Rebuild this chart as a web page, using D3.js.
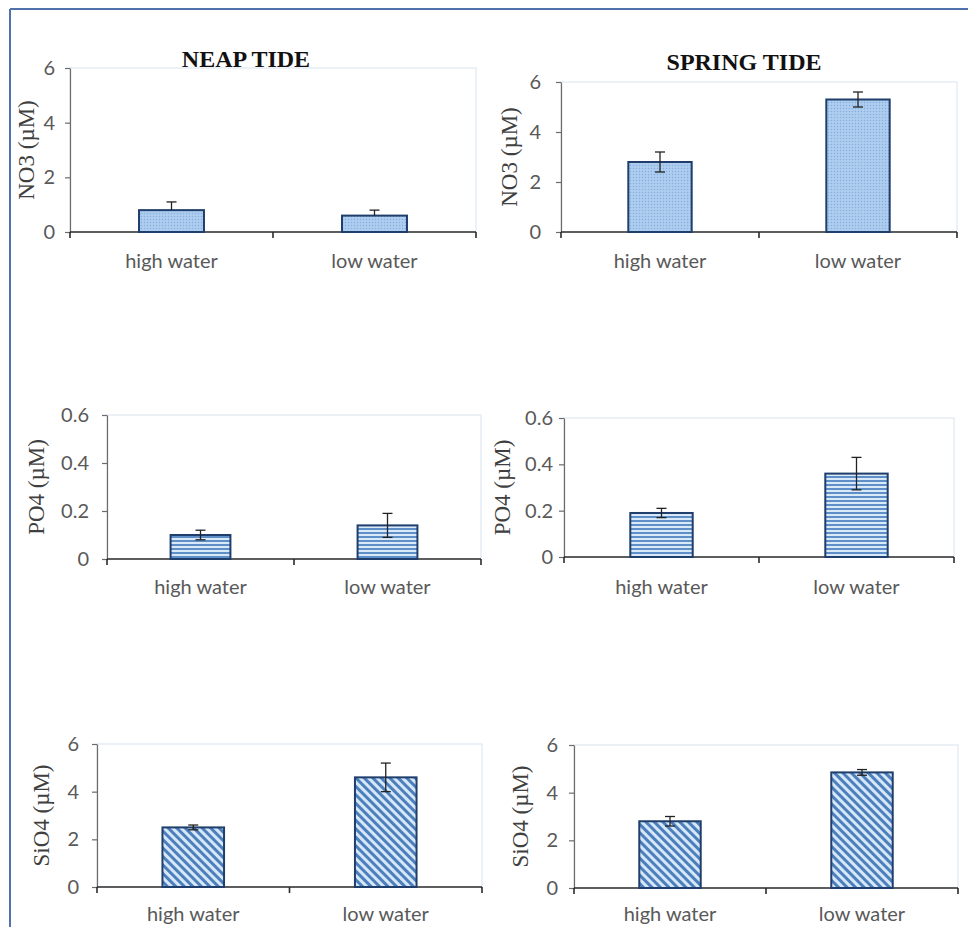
<!DOCTYPE html>
<html>
<head>
  <meta charset="UTF-8">
  <title>Nutrients - neap and spring tide</title>
  <script src="https://d3js.org/d3.v7.min.js"></script>
  <style>
    body { margin: 0; background: #fff; }
    svg text { fill: #595959; }
    .cat-label { font-family: Lato, "Open Sans", sans-serif; font-size: 20px; }
    .y-title { font-family: "Liberation Serif", "Times New Roman", serif; font-size: 23px; fill: #404040; }
    .panel-title { font-family: "Liberation Serif", "Times New Roman", serif; font-size: 24px; font-weight: bold; fill: #111; }
  </style>
</head>
<body>

<div class="chart"></div>

<script>
  var categories = ['high water', 'low water'];

  // NO3 (µM)
  var neapNO3 = [0.8, 0.6];
  var neapNO3Err = [0.3, 0.2];
  var springNO3 = [2.8, 5.3];
  var springNO3Err = [0.4, 0.3];

  // PO4 (µM)
  var neapPO4 = [0.10, 0.14];
  var neapPO4Err = [0.02, 0.05];
  var springPO4 = [0.19, 0.36];
  var springPO4Err = [0.02, 0.07];

  // SiO4 (µM)
  var neapSiO4 = [2.5, 4.6];
  var neapSiO4Err = [0.1, 0.6];
  var springSiO4 = [2.8, 4.85];
  var springSiO4Err = [0.2, 0.12];

  var ticksNO3 = [0, 2, 4, 6];
  var ticksPO4 = [0, 0.2, 0.4, 0.6];
  var ticksSiO4 = [0, 2, 4, 6];

  var width = 968, height = 927;

  var svg = d3.select('.chart')
    .append('svg')
      .attr('width', width)
      .attr('height', height);

  // fill patterns
  var defs = svg.append('defs');

  var dots = defs.append('pattern')
      .attr('id', 'pat-dots')
      .attr('patternUnits', 'userSpaceOnUse')
      .attr('width', 3).attr('height', 3);
  dots.append('rect').attr('width', 3).attr('height', 3).attr('fill', '#a8c9ee');
  dots.append('rect').attr('width', 1).attr('height', 1).attr('fill', '#86aedd');
  dots.append('rect').attr('x', 1.5).attr('y', 1.5).attr('width', 1).attr('height', 1).attr('fill', '#c2daf3');

  var hstripes = defs.append('pattern')
      .attr('id', 'pat-hstripes')
      .attr('patternUnits', 'userSpaceOnUse')
      .attr('width', 8).attr('height', 4);
  hstripes.append('rect').attr('width', 8).attr('height', 4).attr('fill', '#dae9f8');
  hstripes.append('rect').attr('width', 8).attr('height', 2).attr('fill', '#5f8fc8');

  var dstripes = defs.append('pattern')
      .attr('id', 'pat-dstripes')
      .attr('patternUnits', 'userSpaceOnUse')
      .attr('width', 6).attr('height', 6)
      .attr('patternTransform', 'rotate(-45)');
  dstripes.append('rect').attr('width', 6).attr('height', 6).attr('fill', '#d6e8f8');
  dstripes.append('rect').attr('width', 3).attr('height', 6).attr('fill', '#4d7fbd');

  // page frame (blue rule at top and left)
  svg.append('line')
    .attr('x1', 10).attr('y1', 9).attr('x2', width).attr('y2', 9)
    .attr('stroke', '#4f72ad').attr('stroke-width', 2);
  svg.append('line')
    .attr('x1', 10).attr('y1', 9).attr('x2', 10).attr('y2', height)
    .attr('stroke', '#4f72ad').attr('stroke-width', 2);

  var intFmt = d3.format('d');
  var decFmt = d => d === 0 ? '0' : d3.format('.1f')(d);

  var panels = [
    { values: neapNO3, errs: neapNO3Err, ticks: ticksNO3, fmt: intFmt, pattern: 'pat-dots', plusOnly: true,
      yTitle: 'NO3 (µM)', title: 'NEAP TIDE', titleX: 246, titleY: 67,
      x0: 70, x1: 476, yTop: 68, yZero: 232, catY: 268, yTitleX: 34, labelRight: 55 },
    { values: springNO3, errs: springNO3Err, ticks: ticksNO3, fmt: intFmt, pattern: 'pat-dots',
      yTitle: 'NO3 (µM)', title: 'SPRING TIDE', titleX: 744, titleY: 70,
      x0: 561, x1: 957, yTop: 82, yZero: 232, catY: 268, yTitleX: 517, labelRight: 541 },
    { values: neapPO4, errs: neapPO4Err, ticks: ticksPO4, fmt: decFmt, pattern: 'pat-hstripes',
      yTitle: 'PO4 (µM)', title: null,
      x0: 107, x1: 481, yTop: 415, yZero: 559, catY: 594, yTitleX: 44, labelRight: 89 },
    { values: springPO4, errs: springPO4Err, ticks: ticksPO4, fmt: decFmt, pattern: 'pat-hstripes',
      yTitle: 'PO4 (µM)', title: null,
      x0: 564, x1: 954, yTop: 418, yZero: 557, catY: 594, yTitleX: 510, labelRight: 553 },
    { values: neapSiO4, errs: neapSiO4Err, ticks: ticksSiO4, fmt: intFmt, pattern: 'pat-dstripes',
      yTitle: 'SiO4 (µM)', title: null,
      x0: 97, x1: 482, yTop: 744, yZero: 887, catY: 921, yTitleX: 49, labelRight: 79 },
    { values: springSiO4, errs: springSiO4Err, ticks: ticksSiO4, fmt: intFmt, pattern: 'pat-dstripes',
      yTitle: 'SiO4 (µM)', title: null,
      x0: 574, x1: 958, yTop: 745, yZero: 888, catY: 921, yTitleX: 528, labelRight: 558 }
  ];

  panels.forEach(drawPanel);

  function drawPanel(p) {
    var g = svg.append('g');

    var yScale = d3.scaleLinear()
      .domain([p.ticks[0], p.ticks[p.ticks.length - 1]])
      .range([p.yZero, p.yTop]);

    // Excel-like category placement: bars centred in equal slots
    var xScale = d3.scaleBand()
      .domain(categories)
      .range([p.x0, p.x1])
      .paddingInner(0.68)
      .paddingOuter(0.34);

    // faint plot-area outline
    g.append('rect')
      .attr('x', p.x0).attr('y', p.yTop)
      .attr('width', p.x1 - p.x0).attr('height', p.yZero - p.yTop)
      .attr('fill', 'none')
      .attr('stroke', '#e6edf6')
      .attr('stroke-width', 1.5);

    // y axis
    var yAxis = d3.axisLeft(yScale)
      .tickValues(p.ticks)
      .tickFormat(p.fmt)
      .tickSize(5)
      .tickSizeOuter(0)
      .tickPadding(p.x0 - 5 - p.labelRight);
    var ya = g.append('g')
      .attr('transform', 'translate(' + p.x0 + ',0)')
      .call(yAxis);
    ya.select('.domain').attr('stroke', '#6b6b6b').attr('stroke-width', 1.2);
    ya.selectAll('.tick line').attr('stroke', '#6b6b6b').attr('stroke-width', 1.2);
    ya.selectAll('.tick text')
      .attr('fill', '#595959')
      .style('font-family', 'Lato, "Open Sans", sans-serif')
      .style('font-size', '20px');

    // x axis with tick marks between categories
    var xa = g.append('g');
    xa.append('line')
      .attr('x1', p.x0).attr('x2', p.x1)
      .attr('y1', p.yZero).attr('y2', p.yZero)
      .attr('stroke', '#2b2b2b').attr('stroke-width', 1.6);
    var edges = [p.x0, p.x0 + xScale.step(), p.x1];
    xa.selectAll('line.xtick')
      .data(edges)
      .enter().append('line')
      .attr('class', 'xtick')
      .attr('x1', d => d).attr('x2', d => d)
      .attr('y1', p.yZero).attr('y2', p.yZero + 6)
      .attr('stroke', '#2b2b2b').attr('stroke-width', 1.6);

    // bars
    var data = categories.map((c, i) => ({ cat: c, v: p.values[i], e: p.errs[i] }));
    g.selectAll('rect.bar')
      .data(data)
      .enter().append('rect')
      .attr('class', 'bar')
      .attr('x', d => xScale(d.cat))
      .attr('y', d => yScale(d.v))
      .attr('width', xScale.bandwidth())
      .attr('height', d => p.yZero - yScale(d.v))
      .attr('fill', 'url(#' + p.pattern + ')')
      .attr('stroke', '#1f3e6b')
      .attr('stroke-width', 2);

    // error bars (neap NO3 only shows the upper half above the bar)
    var lo = d => p.plusOnly ? d.v : d.v - d.e;
    var eb = g.selectAll('g.err')
      .data(data)
      .enter().append('g')
      .attr('class', 'err')
      .attr('stroke', '#222')
      .attr('stroke-width', 1.3);
    eb.append('line')
      .attr('x1', d => xScale(d.cat) + xScale.bandwidth() / 2)
      .attr('x2', d => xScale(d.cat) + xScale.bandwidth() / 2)
      .attr('y1', d => yScale(d.v + d.e))
      .attr('y2', d => yScale(lo(d)));
    eb.selectAll('line.cap')
      .data(d => (p.plusOnly ? [d.v + d.e] : [d.v + d.e, d.v - d.e]).map(y => ({ cat: d.cat, y: y })))
      .enter().append('line')
      .attr('class', 'cap')
      .attr('x1', d => xScale(d.cat) + xScale.bandwidth() / 2 - 5)
      .attr('x2', d => xScale(d.cat) + xScale.bandwidth() / 2 + 5)
      .attr('y1', d => yScale(d.y))
      .attr('y2', d => yScale(d.y));

    // category labels
    g.selectAll('text.cat-label')
      .data(categories)
      .enter().append('text')
      .attr('class', 'cat-label')
      .attr('x', d => xScale(d) + xScale.bandwidth() / 2)
      .attr('y', p.catY)
      .attr('text-anchor', 'middle')
      .text(d => d);

    // y title
    g.append('text')
      .attr('class', 'y-title')
      .attr('transform', 'translate(' + p.yTitleX + ',' + ((p.yTop + p.yZero) / 2) + ') rotate(-90)')
      .attr('text-anchor', 'middle')
      .text(p.yTitle);

    if (p.title) {
      g.append('text')
        .attr('class', 'panel-title')
        .attr('x', p.titleX)
        .attr('y', p.titleY)
        .attr('text-anchor', 'middle')
        .text(p.title);
    }
  }
</script>

</body>
</html>
